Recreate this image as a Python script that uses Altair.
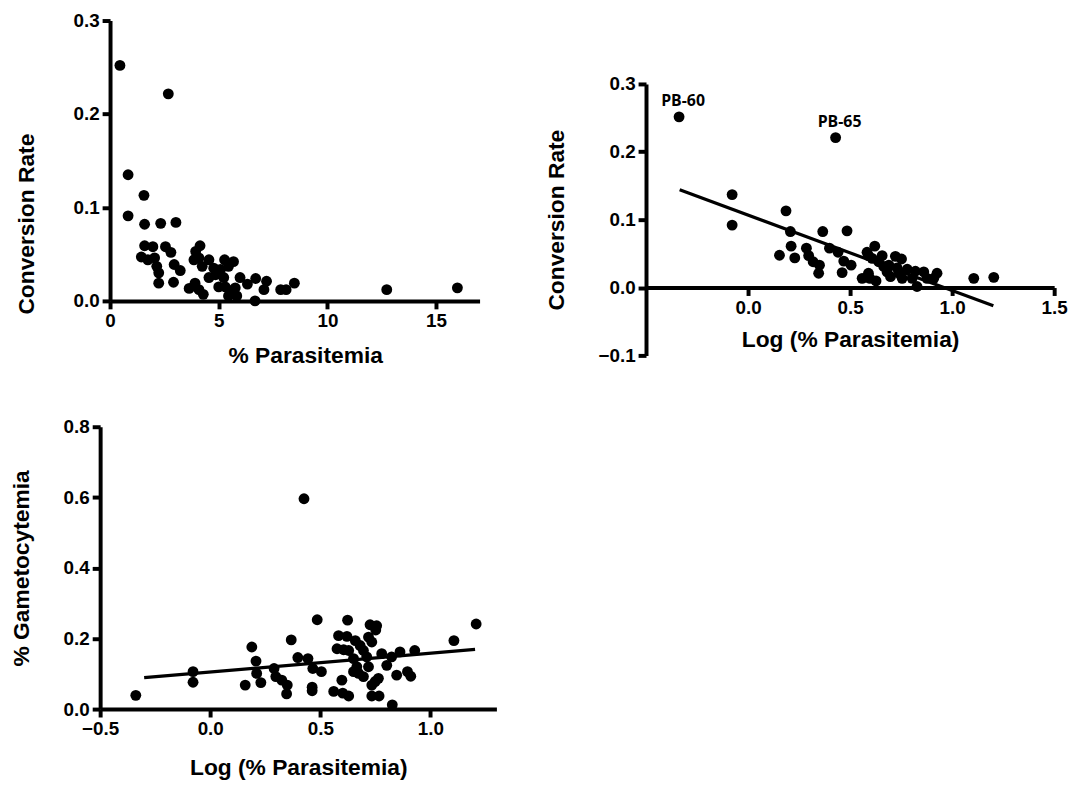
import altair as alt
import pandas as pd

# Panel 1: % Parasitemia vs Conversion Rate
par_pct = [0.455, 2.68, 0.83, 0.83, 1.56, 1.59, 2.33, 3.03, 1.59, 1.97, 2.55, 2.8, 1.44, 1.74,
           2.05, 2.15, 2.24, 2.24, 2.95, 3.23, 2.92, 3.64, 3.91, 4.09, 4.29, 3.86, 3.94, 4.14,
           4.09, 4.24, 4.55, 4.77, 4.55, 4.85, 5.0, 5.08, 5.27, 5.45, 5.68, 5.23, 5.3, 5.53,
           5.76, 5.45, 5.83, 5.98, 6.32, 6.7, 6.67, 7.08, 7.2, 7.85, 8.1, 8.48, 12.73, 15.98]
par_conv = [0.252, 0.2216, 0.135, 0.091, 0.113, 0.082, 0.083, 0.084, 0.059, 0.058, 0.058, 0.052,
            0.047, 0.044, 0.046, 0.037, 0.030, 0.019, 0.039, 0.0325, 0.020, 0.0134, 0.019, 0.012,
            0.007, 0.044, 0.053, 0.059, 0.046, 0.037, 0.044, 0.035, 0.025, 0.028, 0.015, 0.0336,
            0.044, 0.037, 0.042, 0.025, 0.015, 0.011, 0.014, 0.0053, 0.0053, 0.025, 0.018, 0.024,
            0.0, 0.012, 0.021, 0.012, 0.012, 0.019, 0.012, 0.014]

# Panel 2: Log (% Parasitemia) vs Conversion Rate
log_par = [-0.338, 0.429, -0.078, -0.078, 0.186, 0.2075, 0.366, 0.485, 0.211, 0.154, 0.229,
           0.286, 0.297, 0.319, 0.35, 0.346, 0.399, 0.441, 0.469, 0.505, 0.461, 0.559, 0.59,
           0.597, 0.627, 0.583, 0.621, 0.59, 0.608, 0.657, 0.64, 0.665, 0.69, 0.681, 0.698,
           0.722, 0.752, 0.73, 0.739, 0.755, 0.78, 0.82, 0.804, 0.828, 0.861, 0.877, 0.91,
           0.926, 1.106, 1.204]
log_conv = [0.2515, 0.221, 0.137, 0.092, 0.113, 0.0825, 0.0825, 0.0835, 0.061, 0.0476, 0.0437,
            0.058, 0.047, 0.038, 0.033, 0.021, 0.058, 0.052, 0.039, 0.033, 0.022, 0.0136, 0.021,
            0.0136, 0.0097, 0.052, 0.061, 0.047, 0.043, 0.047, 0.038, 0.031, 0.033, 0.023, 0.016,
            0.046, 0.042, 0.029, 0.021, 0.0136, 0.027, 0.024, 0.0136, 0.0015, 0.023, 0.0136, 0.0136,
            0.021, 0.0136, 0.015]
label_text = ["PB-60", "PB-65"]
label_x = [-0.338, 0.429]
label_y = [0.2515, 0.221]
fit_cr_x = [-0.335, 1.202]
fit_cr_y = [0.144, -0.027]

# Panel 3: Log (% Parasitemia) vs % Gametocytemia
gam_log = [-0.338, -0.078, -0.078, 0.189, 0.208, 0.211, 0.159, 0.23, 0.29, 0.298, 0.325, 0.35,
           0.347, 0.368, 0.398, 0.444, 0.426, 0.466, 0.505, 0.463, 0.463, 0.486, 0.624, 0.561,
           0.598, 0.602, 0.629, 0.583, 0.621, 0.576, 0.606, 0.629, 0.659, 0.681, 0.696, 0.651,
           0.666, 0.651, 0.674, 0.696, 0.719, 0.711, 0.719, 0.734, 0.726, 0.756, 0.752, 0.734,
           0.749, 0.764, 0.734, 0.767, 0.779, 0.802, 0.824, 0.862, 0.847, 0.827, 0.896, 0.911,
           0.929, 1.107, 1.208]
gam_pct = [0.039, 0.106, 0.076, 0.176, 0.136, 0.101, 0.068, 0.075, 0.115, 0.092, 0.082, 0.068,
           0.043, 0.196, 0.146, 0.143, 0.596, 0.115, 0.106, 0.062, 0.052, 0.253, 0.252, 0.05,
           0.082, 0.045, 0.037, 0.208, 0.206, 0.171, 0.168, 0.166, 0.194, 0.180, 0.166, 0.143,
           0.120, 0.106, 0.101, 0.092, 0.120, 0.148, 0.204, 0.19, 0.239, 0.236, 0.224, 0.068,
           0.078, 0.087, 0.037, 0.037, 0.157, 0.124, 0.148, 0.162, 0.096, 0.012, 0.106, 0.093,
           0.166, 0.194, 0.241]
fit_g_x = [-0.30, 1.203]
fit_g_y = [0.089, 0.169]

FONT = "Liberation Sans"
ax = dict(domainColor="black", domainWidth=4, tickColor="black", tickWidth=4, tickSize=8,
          labelFont=FONT, labelFontSize=19, labelFontWeight="bold", labelColor="black",
          labelPadding=3, titleFont=FONT, titleFontSize=23, titleFontWeight="bold",
          titleColor="black", grid=False, labelFlush=False, labelOverlap=False)

dot = dict(size=120, color="black", opacity=1)

# ---- Panel 1
df1 = pd.DataFrame({"x": par_pct, "y": par_conv})
p1 = alt.Chart(df1).mark_circle(**dot).encode(
    x=alt.X("x:Q", scale=alt.Scale(domain=[0, 17], range=[10, 383], nice=False, zero=False),
            axis=alt.Axis(values=[0, 5, 10, 15], format="d", title="% Parasitemia",
                          titlePadding=14, titleX=207, **ax)),
    y=alt.Y("y:Q", scale=alt.Scale(domain=[0, 0.3], nice=False),
            axis=alt.Axis(values=[0, 0.1, 0.2, 0.3], format=".1f", title="Conversion Rate",
                          offset=-10, titlePadding=35, titleY=205, **ax)),
).properties(width=383, height=283)

# ---- Panel 2
df2 = pd.DataFrame({"x": log_par, "y": log_conv})
dfl = pd.DataFrame({"x": label_x, "y": label_y, "t": label_text})
dff2 = pd.DataFrame({"x": fit_cr_x, "y": fit_cr_y})
x2 = alt.X("x:Q", scale=alt.Scale(domain=[-0.5, 1.5], nice=False, zero=False),
           axis=alt.Axis(values=[0, 0.5, 1.0, 1.5], format=".1f", title="Log (% Parasitemia)",
                         offset=-68.5, titlePadding=12, **ax))
y2 = alt.Y("y:Q", scale=alt.Scale(domain=[-0.1, 0.3], range=[338, 64], nice=False, zero=False),
           axis=alt.Axis(values=[-0.1, 0, 0.1, 0.2, 0.3], format=".1f", title="Conversion Rate",
                         titlePadding=30, **ax))
p2 = alt.layer(
    alt.Chart(df2).mark_circle(**dot).encode(x=x2, y=y2),
    alt.Chart(dff2).mark_line(color="black", strokeWidth=3.2).encode(x="x:Q", y="y:Q"),
    alt.Chart(dfl).mark_text(font="Open Sans", fontSize=16, fontWeight="bold", color="black",
                             dx=4, dy=-16).encode(x="x:Q", y="y:Q", text="t:N"),
).properties(width=412, height=338)

# ---- Panel 3
df3 = pd.DataFrame({"x": gam_log, "y": gam_pct})
dff3 = pd.DataFrame({"x": fit_g_x, "y": fit_g_y})
x3 = alt.X("x:Q", scale=alt.Scale(domain=[-0.5, 1.3], nice=False, zero=False),
           axis=alt.Axis(values=[-0.5, 0, 0.5, 1.0], format=".1f", title="Log (% Parasitemia)",
                         titlePadding=18, **ax))
y3 = alt.Y("y:Q", scale=alt.Scale(domain=[0, 0.8], nice=False),
           axis=alt.Axis(values=[0, 0.2, 0.4, 0.6, 0.8], format=".1f", title="% Gametocytemia",
                         titlePadding=30, **ax))
p3 = alt.layer(
    alt.Chart(df3).mark_circle(**dot).encode(x=x3, y=y3),
    alt.Chart(dff3).mark_line(color="black", strokeWidth=3.2).encode(x="x:Q", y="y:Q"),
).properties(width=400, height=285)

chart = alt.concat(p1, p2, p3, columns=2, spacing={"row": 72, "column": 151},
                   bounds="flush").configure_view(stroke=None).configure_axis(
    domainWidth=4, tickWidth=4, domainColor="black", tickColor="black").properties(
    padding={"left": 2, "top": 0, "right": 5, "bottom": 5})

chart.save("out.html", embed_options={"renderer": "svg", "actions": False})
